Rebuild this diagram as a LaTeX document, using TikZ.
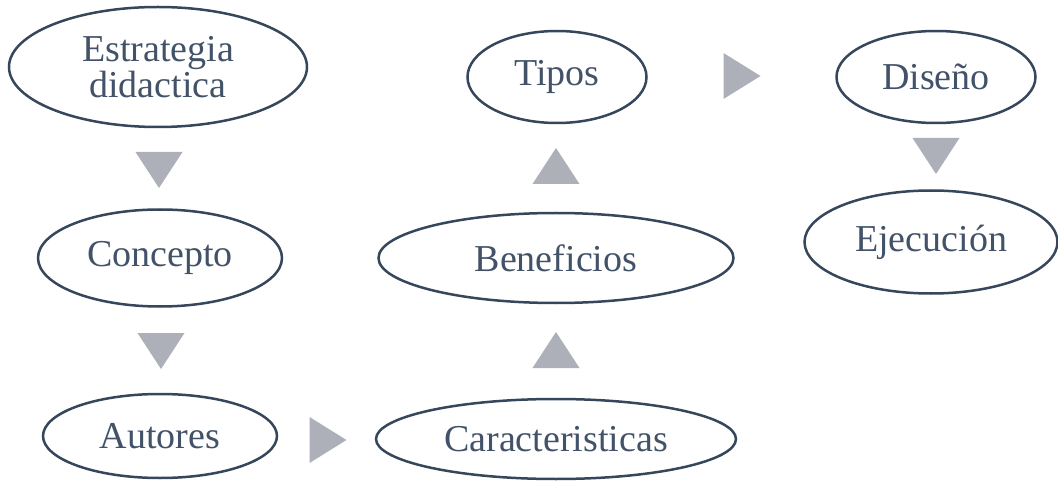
\documentclass[tikz,border=0pt]{standalone}
\usepackage{fontspec}
\setmainfont{Liberation Serif}
\usetikzlibrary{shapes.geometric}
\definecolor{txtc}{HTML}{425268}
\definecolor{linec}{HTML}{36465B}
\definecolor{tric}{HTML}{ADB0B8}
\tikzset{
  oval/.style={ellipse, draw=linec, line width=2.5pt, inner sep=0pt, text=txtc,
    font=\fontsize{38}{36}\selectfont, align=center},
  trifill/.style={fill=tric, draw=none},
  tridown/.pic={\fill[trifill] (-23.5,-18) -- (23.5,-18) -- (0,18) -- cycle;},
  triup/.pic={\fill[trifill] (-23.5,18) -- (23.5,18) -- (0,-18) -- cycle;},
  triright/.pic={\fill[trifill] (-18.5,-23) -- (-18.5,23) -- (18.5,0) -- cycle;}
}
\begin{document}
\begin{tikzpicture}[x=1pt,y=-1pt]
\useasboundingbox (0,0) rectangle (1058,481);
\node[oval, minimum width=298pt, minimum height=120pt] (estr) at (158,67) {Estrategia\\didactica};
\node[oval, minimum width=244pt, minimum height=97pt] (conc) at (160,258) {Concepto};
\node[oval, minimum width=234pt, minimum height=84pt] (auto) at (160,436) {Autores};
\node[oval, minimum width=360pt, minimum height=80pt] (cara) at (556,439) {Caracteristicas};
\node[oval, minimum width=355pt, minimum height=90pt] (bene) at (556,258) {Beneficios};
\node[oval, minimum width=179pt, minimum height=92pt] (tipo) at (557,77) {Tipos};
\node[oval, minimum width=199pt, minimum height=92pt] (dise) at (936,77) {Diseño};
\node[oval, minimum width=253pt, minimum height=103pt] (ejec) at (931,242) {Ejecución};
\coordinate (t1) at (159,170);
\coordinate (t2) at (161,351);
\coordinate (t3) at (328,440);
\coordinate (t4) at (556,350);
\coordinate (t5) at (556,166);
\coordinate (t6) at (742,76);
\coordinate (t7) at (936,156);
\pic at (t1) {tridown};
\pic at (t2) {tridown};
\pic at (t3) {triright};
\pic at (t4) {triup};
\pic at (t5) {triup};
\pic at (t6) {triright};
\pic at (t7) {tridown};
\end{tikzpicture}
\end{document}
